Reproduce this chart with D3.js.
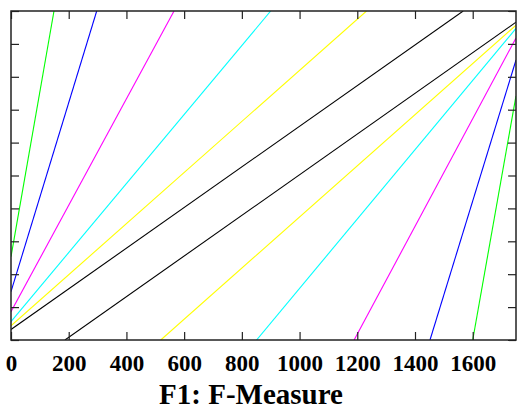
<!DOCTYPE html>
<html>
<head>
<meta charset="utf-8">
<script src="https://cdn.jsdelivr.net/npm/d3@7"></script>
<style>
  html, body { margin: 0; padding: 0; background: #fff; }
  svg { display: block; }
  text { font-family: "Liberation Serif", "Times New Roman", serif; font-weight: bold; fill: #000; }
</style>
</head>
<body>
<svg id="chart" width="518" height="412"></svg>
<script>
// ---- data ----
const xTickValues = [0, 200, 400, 600, 800, 1000, 1200, 1400, 1600];
const yTickValues = [0, 0.1, 0.2, 0.3, 0.4, 0.5, 0.6, 0.7, 0.8, 0.9, 1.0];
const xLabel = "F1: F-Measure";

const seriesNames  = ["black", "yellow", "cyan", "magenta", "blue", "green"];
const seriesColors = ["#000000", "#ffff00", "#00ffff", "#ff00ff", "#0000ff", "#00ff00"];
// upper-left family: from (0, upperStartY) to (upperEndX, 1)
const upperStartY = [0.032, 0.043, 0.056, 0.086, 0.147, 0.253];
const upperEndX   = [1567, 1232, 900, 565, 297, 149];
// lower-right family: from (lowerStartX, 0) to (1750, lowerEndY)
const lowerStartX = [187, 519, 851, 1189, 1452, 1600];
const lowerEndY   = [0.966, 0.957, 0.947, 0.918, 0.851, 0.742];

const xDomain = [0, 1750];
const yDomain = [0, 1];

// ---- layout ----
const margin = { left: 11, right: 2, top: 11, bottom: 72 };
const W = 518, H = 412;
const svg = d3.select("#chart");
const x = d3.scaleLinear().domain(xDomain).range([margin.left, W - margin.right]);
const y = d3.scaleLinear().domain(yDomain).range([H - margin.bottom, margin.top]);

svg.append("defs").append("clipPath").attr("id", "plotclip")
  .append("rect")
  .attr("x", x(xDomain[0])).attr("y", y(yDomain[1]))
  .attr("width", x(xDomain[1]) - x(xDomain[0]))
  .attr("height", y(yDomain[0]) - y(yDomain[1]));

// lines
const segs = [];
seriesNames.forEach((n, i) => {
  segs.push({ c: seriesColors[i], p: [[0, upperStartY[i]], [upperEndX[i], 1]] });
  segs.push({ c: seriesColors[i], p: [[lowerStartX[i], 0], [xDomain[1], lowerEndY[i]]] });
});
const line = d3.line().x(d => x(d[0])).y(d => y(d[1]));
svg.append("g").attr("clip-path", "url(#plotclip)")
  .selectAll("path").data(segs).join("path")
  .attr("d", d => line(d.p))
  .attr("fill", "none")
  .attr("stroke", d => d.c)
  .attr("stroke-width", 1.1);

// axes (ticks inward, mirrored)
const tickLen = 8;
const styleAxis = g => {
  g.select(".domain").remove();
  g.selectAll(".tick line").attr("stroke", "#222").attr("stroke-width", 1.2);
};
svg.append("g").attr("transform", `translate(0,${y(0)})`)
  .call(d3.axisBottom(x).tickValues(xTickValues).tickSize(-tickLen).tickPadding(15).tickFormat(d3.format("d")))
  .call(styleAxis)
  .call(g => g.selectAll(".tick text").attr("font-size", 23).attr("font-family", "Liberation Serif").attr("font-weight", "bold").attr("fill", "#000"));
svg.append("g").attr("transform", `translate(0,${y(1)})`)
  .call(d3.axisTop(x).tickValues(xTickValues).tickSize(-tickLen).tickFormat(""))
  .call(styleAxis);
svg.append("g").attr("transform", `translate(${x(0)},0)`)
  .call(d3.axisLeft(y).tickValues(yTickValues).tickSize(-tickLen).tickFormat(""))
  .call(styleAxis);
svg.append("g").attr("transform", `translate(${x(xDomain[1])},0)`)
  .call(d3.axisRight(y).tickValues(yTickValues).tickSize(-tickLen).tickFormat(""))
  .call(styleAxis);

// frame
svg.append("rect")
  .attr("x", x(xDomain[0])).attr("y", y(yDomain[1]))
  .attr("width", x(xDomain[1]) - x(xDomain[0]))
  .attr("height", y(yDomain[0]) - y(yDomain[1]))
  .attr("fill", "none").attr("stroke", "#222").attr("stroke-width", 1.5);

// x label
svg.append("text")
  .attr("x", 251).attr("y", 404)
  .attr("text-anchor", "middle")
  .attr("font-size", 29)
  .text(xLabel);
</script>
</body>
</html>
